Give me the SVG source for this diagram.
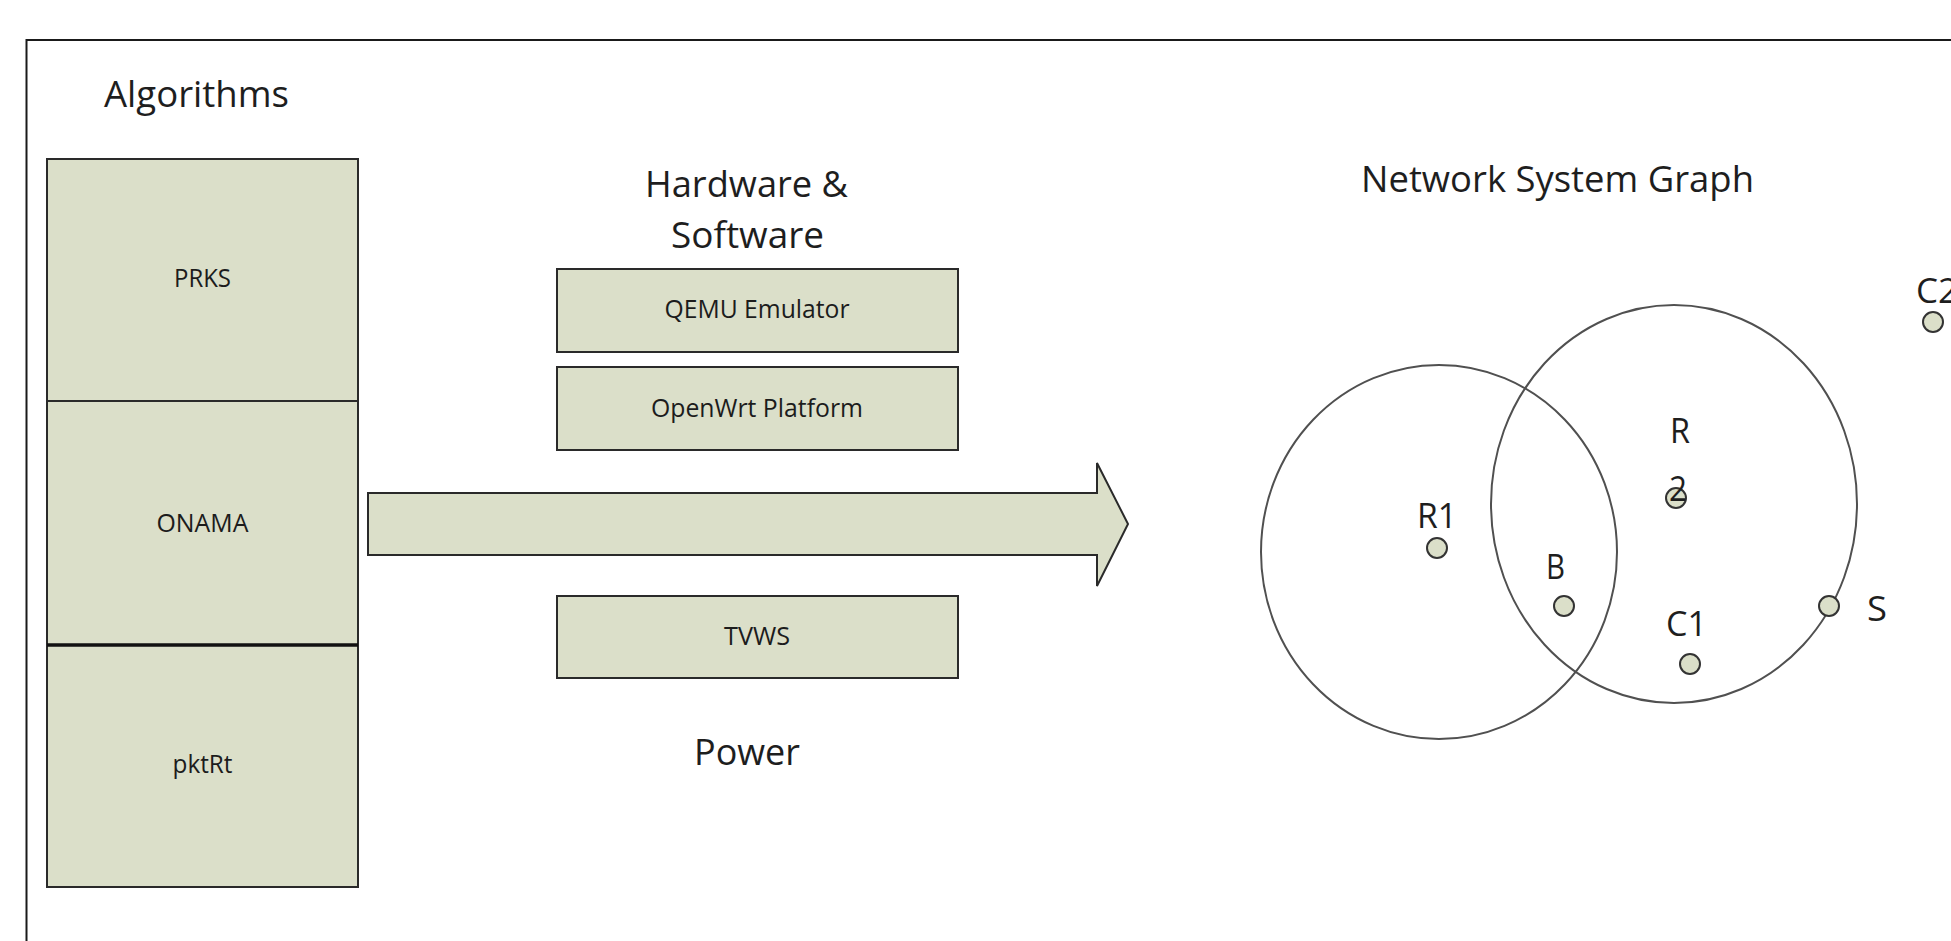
<svg xmlns="http://www.w3.org/2000/svg" width="1951" height="941" viewBox="0 0 1951 941">
  <style>
    .box { fill: #dbdfc9; stroke: #2a2a2a; stroke-width: 2; }
    .hdr { font-family: "Open Sans", "Noto Sans", sans-serif; font-size: 37px; fill: #1e1e1e; }
    .lbl { font-family: "Open Sans", "Noto Sans", sans-serif; font-size: 25px; fill: #1c1c1c; text-anchor: middle; }
    .nlbl { font-family: "Open Sans", "Noto Sans", sans-serif; font-size: 35px; fill: #1e1e1e; }
    .range { fill: none; stroke: #505050; stroke-width: 2; }
    .dot { fill: #dbdfc9; stroke: #333; stroke-width: 2; }
  </style>

  <rect width="1951" height="941" fill="#ffffff"/>

  <!-- outer frame, open to the right and bottom -->
  <path d="M 1960 40 H 26.5 V 960" fill="none" stroke="#1a1a1a" stroke-width="2"/>

  <!-- algorithm stack -->
  <g id="algorithms">
    <text class="hdr" x="104" y="107" textLength="185" lengthAdjust="spacingAndGlyphs">Algorithms</text>
  </g>
  <g id="prks">
    <rect class="box" x="47" y="159" width="311" height="242"/>
    <text class="lbl" x="202.5" y="287" textLength="57" lengthAdjust="spacingAndGlyphs">PRKS</text>
  </g>
  <g id="onama">
    <rect class="box" x="47" y="401" width="311" height="244"/>
    <text class="lbl" x="202.5" y="532" textLength="92" lengthAdjust="spacingAndGlyphs">ONAMA</text>
  </g>
  <g id="pktrt">
    <rect class="box" x="47" y="645" width="311" height="242"/>
    <line x1="47" y1="645" x2="358" y2="645" stroke="#111" stroke-width="3.5"/>
    <text class="lbl" x="202.5" y="773" textLength="60" lengthAdjust="spacingAndGlyphs">pktRt</text>
  </g>

  <!-- hardware / software column -->
  <g id="hw-sw-title">
    <text class="hdr" x="645" y="197" textLength="203" lengthAdjust="spacingAndGlyphs">Hardware &amp;</text>
    <text class="hdr" x="671" y="248" textLength="153" lengthAdjust="spacingAndGlyphs">Software</text>
  </g>
  <g id="qemu">
    <rect class="box" x="557" y="269" width="401" height="83"/>
    <text class="lbl" x="757" y="318" textLength="185" lengthAdjust="spacingAndGlyphs">QEMU Emulator</text>
  </g>
  <g id="openwrt">
    <rect class="box" x="557" y="367" width="401" height="83"/>
    <text class="lbl" x="757" y="417" textLength="212" lengthAdjust="spacingAndGlyphs">OpenWrt Platform</text>
  </g>
  <g id="tvws">
    <rect class="box" x="557" y="596" width="401" height="82"/>
    <text class="lbl" x="757" y="645" textLength="66" lengthAdjust="spacingAndGlyphs">TVWS</text>
  </g>
  <g id="power">
    <text class="hdr" x="694" y="765" textLength="106" lengthAdjust="spacingAndGlyphs">Power</text>
  </g>

  <!-- block arrow from the stack to the network graph -->
  <g id="connectors">
    <polygon class="box" points="368,493 1097,493 1097,463 1128,524 1097,586 1097,555 368,555"/>
  </g>

  <!-- network system graph -->
  <g id="graph-title">
    <text class="hdr" x="1361" y="192" textLength="393" lengthAdjust="spacingAndGlyphs">Network System Graph</text>
  </g>
  <g id="ranges">
    <ellipse class="range" cx="1439" cy="552" rx="178" ry="187"/>
    <ellipse class="range" cx="1674" cy="504" rx="183" ry="199"/>
  </g>
  <g id="node-r1">
    <circle class="dot" cx="1437" cy="548" r="10"/>
    <text class="nlbl" x="1417" y="528" textLength="40" lengthAdjust="spacingAndGlyphs">R1</text>
  </g>
  <g id="node-b">
    <circle class="dot" cx="1564" cy="606" r="10"/>
    <text class="nlbl" x="1546" y="579" textLength="19" lengthAdjust="spacingAndGlyphs">B</text>
  </g>
  <g id="node-r2">
    <circle class="dot" cx="1676" cy="498" r="10"/>
    <text class="nlbl" x="1670" y="443" textLength="20" lengthAdjust="spacingAndGlyphs">R</text>
    <text class="nlbl" x="1669" y="501" textLength="18" lengthAdjust="spacingAndGlyphs">2</text>
  </g>
  <g id="node-c1">
    <circle class="dot" cx="1690" cy="664" r="10"/>
    <text class="nlbl" x="1666" y="636" textLength="41" lengthAdjust="spacingAndGlyphs">C1</text>
  </g>
  <g id="node-s">
    <circle class="dot" cx="1829" cy="606" r="10"/>
    <text class="nlbl" x="1867" y="621" textLength="20" lengthAdjust="spacingAndGlyphs">S</text>
  </g>
  <g id="node-c2">
    <circle class="dot" cx="1933" cy="322" r="10"/>
    <text class="nlbl" x="1916" y="303">C2</text>
  </g>
</svg>
